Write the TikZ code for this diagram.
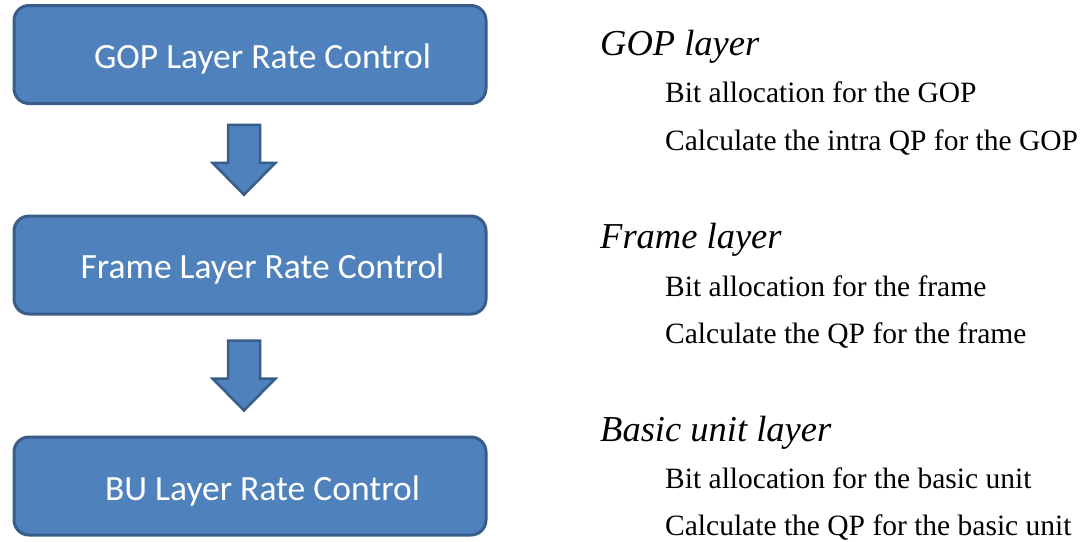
\documentclass[tikz,border=0pt]{standalone}
\usepackage{fontspec}
\setmainfont{Liberation Serif}
\newfontfamily\boxfont{Carlito}
\usetikzlibrary{calc}
\definecolor{boxfill}{HTML}{4F81BD}
\definecolor{boxline}{HTML}{385D8A}
\tikzset{
  rcbox/.style={draw=boxline, fill=boxfill, line width=3pt, rounded corners=15pt,
    minimum width=472pt, minimum height=98pt, inner sep=0pt},
  rclabel/.style={anchor=base, text=white, inner sep=0pt, font=\boxfont\fontsize{35.5}{40}\selectfont},
  blockarrow/.style={draw=boxline, fill=boxfill, line width=2.5pt, line join=miter},
  layerhead/.style={anchor=base west, inner sep=0pt, font=\itshape\fontsize{36.5}{40}\selectfont},
  layeritem/.style={anchor=base west, inner sep=0pt, font=\fontsize{29.5}{34}\selectfont},
}
\newcommand\downblock[1]{%
  \draw[blockarrow] ($(#1)+(-16,-35)$) -- ($(#1)+(16,-35)$) -- ($(#1)+(16,3)$)
    -- ($(#1)+(31.5,3)$) -- ($(#1)+(0,35)$) -- ($(#1)+(-31.5,3)$)
    -- ($(#1)+(-16,3)$) -- cycle;}
\begin{document}
\begin{tikzpicture}[x=1pt,y=-1pt]
\useasboundingbox (0,0) rectangle (1090,541);
\node[rcbox] (b1) at (250,54.5) {};
\node[rcbox] (b2) at (250,265) {};
\node[rcbox] (b3) at (250,486) {};
\node[rclabel] (t1) at (262.5,68) {GOP Layer Rate Control};
\node[rclabel] (t2) at (262.5,278) {Frame Layer Rate Control};
\node[rclabel] (t3) at (262.5,500) {BU Layer Rate Control};
\coordinate (a1) at ($($(b1.south)!0.5!(b2.north)$)+(-6,0)$);
\coordinate (a2) at ($($(b2.south)!0.5!(b3.north)$)+(-6,0)$);
\downblock{a1}
\downblock{a2}
\node[layerhead] (h1) at (600,55) {GOP layer};
\node[layeritem] (i11) at (665,102) {Bit allocation for the GOP};
\node[layeritem] (i12) at (665,150) {Calculate the intra QP for the GOP};
\node[layerhead] (h2) at (600,248) {Frame layer};
\node[layeritem] (i21) at (665,296) {Bit allocation for the frame};
\node[layeritem] (i22) at (665,343) {Calculate the QP for the frame};
\node[layerhead] (h3) at (600,441) {Basic unit layer};
\node[layeritem] (i31) at (665,488) {Bit allocation for the basic unit};
\node[layeritem] (i32) at (665,535) {Calculate the QP for the basic unit};
\end{tikzpicture}
\end{document}
